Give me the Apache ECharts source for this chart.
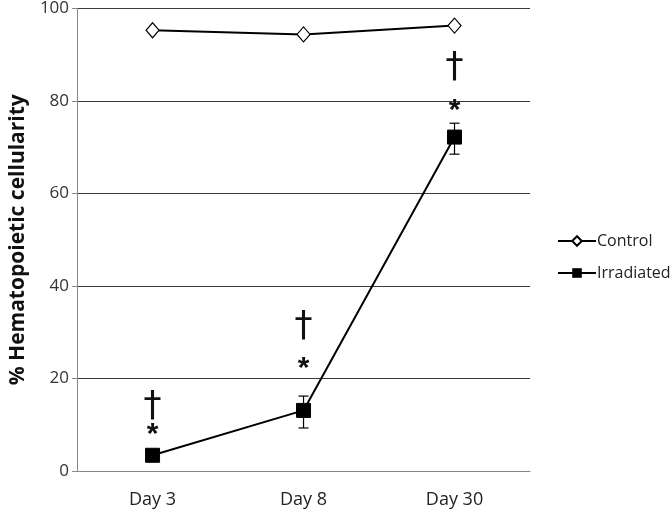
<!DOCTYPE html>
<html><head><meta charset="utf-8">
<script src="https://cdn.jsdelivr.net/npm/echarts@6/dist/echarts.min.js"></script>
<style>html,body{margin:0;padding:0;background:#fff}#c{width:672px;height:519px}</style>
</head><body><div id="c"></div>
<script>
var categories = ['Day 3', 'Day 8', 'Day 30'];
var control = [95.3, 94.4, 96.3];
var irradiated = [3.4, 13.1, 72.2];
var irrLow = [2.6, 9.3, 68.5];
var irrHigh = [4.2, 16.2, 75.2];
var starLabels = ['*', '*', '*'];
var daggerLabels = ['†', '†', '†'];
var yTicks = [0, 20, 40, 60, 80, 100];

// pixel offsets of annotations above the marker (style)
var starOff = [21, 42, 26];
var daggerOff = [49, 84, 69];

var chart = echarts.init(document.getElementById('c'));
var font = '"Open Sans", "Liberation Sans", sans-serif';
chart.setOption({
  animation: false,
  grid: {left: 77, right: 142, top: 7, bottom: 48},
  legend: {
    orient: 'vertical', left: 552, top: 228, itemGap: 16, itemWidth: 38, itemHeight: 12,
    textStyle: {fontFamily: font, fontSize: 16, color: '#222', padding: [0, 0, 0, -4]},
    data: ['Control', 'Irradiated']
  },
  xAxis: {
    type: 'category', data: categories, boundaryGap: true,
    axisLine: {lineStyle: {color: '#888', width: 1}},
    axisTick: {show: false},
    axisLabel: {fontFamily: font, fontSize: 18, color: '#222', margin: 20}
  },
  yAxis: {
    type: 'value', min: 0, max: 100, interval: 20,
    name: '% Hematopoietic cellularity', nameLocation: 'middle', nameGap: 47,
    nameTextStyle: {fontFamily: font, fontSize: 21, fontWeight: 'bold', color: '#111'},
    axisLine: {show: true, lineStyle: {color: '#888', width: 1}},
    axisTick: {show: true, length: 5, lineStyle: {color: '#888'}},
    axisLabel: {fontFamily: font, fontSize: 17, color: '#333', margin: 8,
      formatter: function (v) { return yTicks.indexOf(v) >= 0 ? String(v) : ''; }},
    splitLine: {lineStyle: {color: '#3a3a3a', width: 1.2}}
  },
  series: [
    {
      name: 'Control', type: 'line', data: control,
      symbol: 'diamond', symbolSize: [13, 15],
      itemStyle: {color: '#fff', borderColor: '#000', borderWidth: 1.2},
      lineStyle: {color: '#000', width: 2}, z: 3
    },
    {
      name: 'Irradiated', type: 'line', data: irradiated,
      symbol: 'rect', symbolSize: 14,
      itemStyle: {color: '#000', borderColor: '#000'},
      lineStyle: {color: '#000', width: 2}, z: 3
    },
    {
      type: 'custom', z: 4,
      data: categories.map(function (c, i) { return [i, irrLow[i], irrHigh[i], irradiated[i]]; }),
      renderItem: function (params, api) {
        var i = api.value(0);
        var lo = api.coord([i, api.value(1)]);
        var hi = api.coord([i, api.value(2)]);
        var mid = api.coord([i, api.value(3)]);
        var x = lo[0], w = 5;
        var st = {stroke: '#000', lineWidth: 1.2};
        return {type: 'group', children: [
          {type: 'line', shape: {x1: x, y1: lo[1], x2: x, y2: hi[1]}, style: st},
          {type: 'line', shape: {x1: x - w, y1: lo[1], x2: x + w, y2: lo[1]}, style: st},
          {type: 'line', shape: {x1: x - w, y1: hi[1], x2: x + w, y2: hi[1]}, style: st},
          {type: 'text', style: {x: x, y: mid[1] - starOff[i], text: starLabels[i], fill: '#111',
            font: 'bold 30px "Liberation Sans", sans-serif', align: 'center', verticalAlign: 'middle'}},
          {type: 'text', style: {x: x, y: mid[1] - daggerOff[i], text: daggerLabels[i], fill: '#111',
            font: '36px "DejaVu Sans", sans-serif', align: 'center', verticalAlign: 'middle'}}
        ]};
      }
    }
  ]
});
</script></body></html>
